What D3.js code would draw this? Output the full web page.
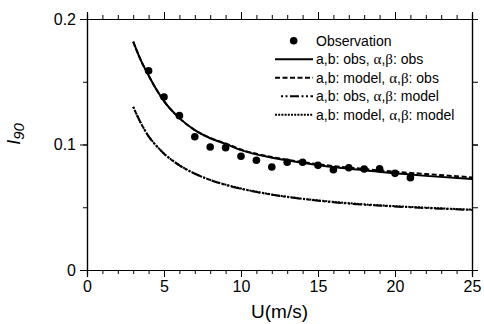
<!DOCTYPE html>
<html>
<head>
<meta charset="utf-8">
<script src="https://cdn.jsdelivr.net/npm/d3@7"></script>
<style>
  body { margin: 0; background: #fff; }
  text { font-family: Arial, "Liberation Sans", sans-serif; fill: #000; }
</style>
</head>
<body>
<svg id="chart" width="484" height="324"></svg>
<script>
// observations
const uObs = [4, 5, 6, 7, 8, 9, 10, 11, 12, 13, 14, 15, 16, 17, 18, 19, 20, 21];
const obsI90 = [0.1588, 0.1378, 0.123, 0.1062, 0.098, 0.0975, 0.0906, 0.0874, 0.0821,
                0.0858, 0.0858, 0.0834, 0.0799, 0.0815, 0.0805, 0.0807, 0.077, 0.0736];

// fitted curves
const uFit = [3, 3.5, 4, 4.5, 5, 6, 7, 8, 9, 10, 12, 14, 16, 18, 20, 22, 25];
const abObsAlObs = [0.182, 0.167, 0.155, 0.144, 0.1345, 0.121, 0.1115, 0.105, 0.1005, 0.0955,
                    0.0895, 0.0855, 0.082, 0.0795, 0.077, 0.075, 0.0725];
const abModAlObs = [0.182, 0.167, 0.155, 0.144, 0.1345, 0.121, 0.1115, 0.1052, 0.1008, 0.096,
                    0.09, 0.086, 0.0828, 0.0805, 0.0783, 0.0765, 0.0738];
const abObsAlMod = [0.130, 0.117, 0.1065, 0.099, 0.0927, 0.0834, 0.0767, 0.0717, 0.0678, 0.0647,
                    0.06, 0.0566, 0.054, 0.052, 0.0506, 0.0494, 0.0478];
const abModAlMod = [0.130, 0.117, 0.1066, 0.0991, 0.0928, 0.0835, 0.0768, 0.0718, 0.068, 0.0649,
                    0.0602, 0.0568, 0.0543, 0.0523, 0.0509, 0.0497, 0.0481];

const xTicks = [0, 5, 10, 15, 20, 25];
const yTicks = [0, 0.1, 0.2];

const svg = d3.select("#chart");
const margin = { top: 19, right: 12, bottom: 54, left: 87 };
const W = 484 - margin.left - margin.right;
const H = 324 - margin.top - margin.bottom;

const x = d3.scaleLinear().domain([0, 25]).range([0, W]);
const y = d3.scaleLinear().domain([0, 0.2]).range([H, 0]);

const g = svg.append("g").attr("transform", `translate(${margin.left},${margin.top})`);

// axes: major + minor ticks, all outward
function axisSet(axisFn, scale, major, minor, len, lenMinor, fmt, tr) {
  const a = g.append("g").attr("transform", tr || null);
  a.call(axisFn(scale).tickValues(minor).tickSize(lenMinor).tickFormat(""));
  const b = g.append("g").attr("transform", tr || null);
  b.call(axisFn(scale).tickValues(major).tickSize(len).tickFormat(fmt).tickPadding(4));
  [a, b].forEach(s => {
    s.selectAll("path").attr("stroke", "#000").attr("stroke-width", 1.2);
    s.selectAll("line").attr("stroke", "#000").attr("stroke-width", 1);
    s.selectAll("text").style("font-size", "16px").attr("fill", "#000");
  });
  return b;
}
const xMinor = d3.range(0, 26, 1);
const yMinor = d3.range(0, 0.2001, 0.05);

axisSet(d3.axisBottom, x, xTicks, xMinor, 7, 4, d3.format("d"), `translate(0,${H})`);
axisSet(d3.axisTop, x, xTicks, xMinor, 7, 4, () => "");
axisSet(d3.axisLeft, y, yTicks, yMinor, 7, 4, d => d === 0 ? "0" : d3.format(".1f")(d));
axisSet(d3.axisRight, y, yTicks, yMinor, 6, 6, () => "", `translate(${W},0)`);

// curves
const line = vals => d3.line()
  .x((d, i) => x(uFit[i]))
  .y(d => y(d))
  .curve(d3.curveMonotoneX)(vals);

const series = [
  { vals: abModAlMod, dash: "2,1.2", label: "a,b: model, \u03b1,\u03b2: model" },
  { vals: abObsAlMod, dash: "2,2.5,2,2.5,9,2.5", label: "a,b: obs, \u03b1,\u03b2: model" },
  { vals: abModAlObs, dash: "5,2.5", label: "a,b: model, \u03b1,\u03b2: obs" },
  { vals: abObsAlObs, dash: null, label: "a,b: obs, \u03b1,\u03b2: obs" }
];

series.forEach(s => {
  g.append("path")
    .attr("d", line(s.vals))
    .attr("fill", "none")
    .attr("stroke", "#000")
    .attr("stroke-width", 2)
    .attr("stroke-dasharray", s.dash);
});

// observation dots
g.selectAll("circle.obs")
  .data(uObs)
  .enter()
  .append("circle")
  .attr("class", "obs")
  .attr("cx", d => x(d))
  .attr("cy", (d, i) => y(obsI90[i]))
  .attr("r", 3.8)
  .attr("fill", "#000");

// legend
const leg = svg.append("g").attr("transform", "translate(275,40.7)");
const rowH = 18.5;
leg.append("circle").attr("cx", 18.7).attr("cy", 0).attr("r", 3.8).attr("fill", "#000");

function legText(sel, label, yy) {
  const t = sel.append("text").attr("x", 41).attr("y", yy + 5).style("font-size", "14px");
  // greek letters in a serif face, like the original
  label.split(/([\u03b1\u03b2])/).forEach(part => {
    if (!part) return;
    const sp = t.append("tspan").text(part);
    if (/[\u03b1\u03b2]/.test(part)) sp.style("font-family", "'Liberation Serif', 'DejaVu Serif', serif").style("font-size", "15px");
  });
}
legText(leg, "Observation", 0);

series.slice().reverse().forEach((s, i) => {
  const yy = (i + 1) * rowH;
  leg.append("line")
    .attr("x1", s.dash && s.dash.startsWith("2,2.5") ? 6 : 0)
    .attr("x2", 38).attr("y1", yy).attr("y2", yy)
    .attr("stroke", "#000").attr("stroke-width", 2)
    .attr("stroke-dasharray", s.dash);
  legText(leg, s.label, yy);
});

// axis titles
svg.append("text")
  .attr("x", margin.left + W / 2)
  .attr("y", 318)
  .attr("text-anchor", "middle")
  .style("font-size", "19px")
  .text("U(m/s)");

const yt = svg.append("text")
  .attr("transform", "translate(20,134) rotate(-90)")
  .attr("text-anchor", "middle")
  .style("font-size", "18px")
  .style("font-style", "italic");
yt.append("tspan").text("I");
yt.append("tspan").attr("dy", 4).style("font-size", "15px").text("90");
</script>
</body>
</html>
